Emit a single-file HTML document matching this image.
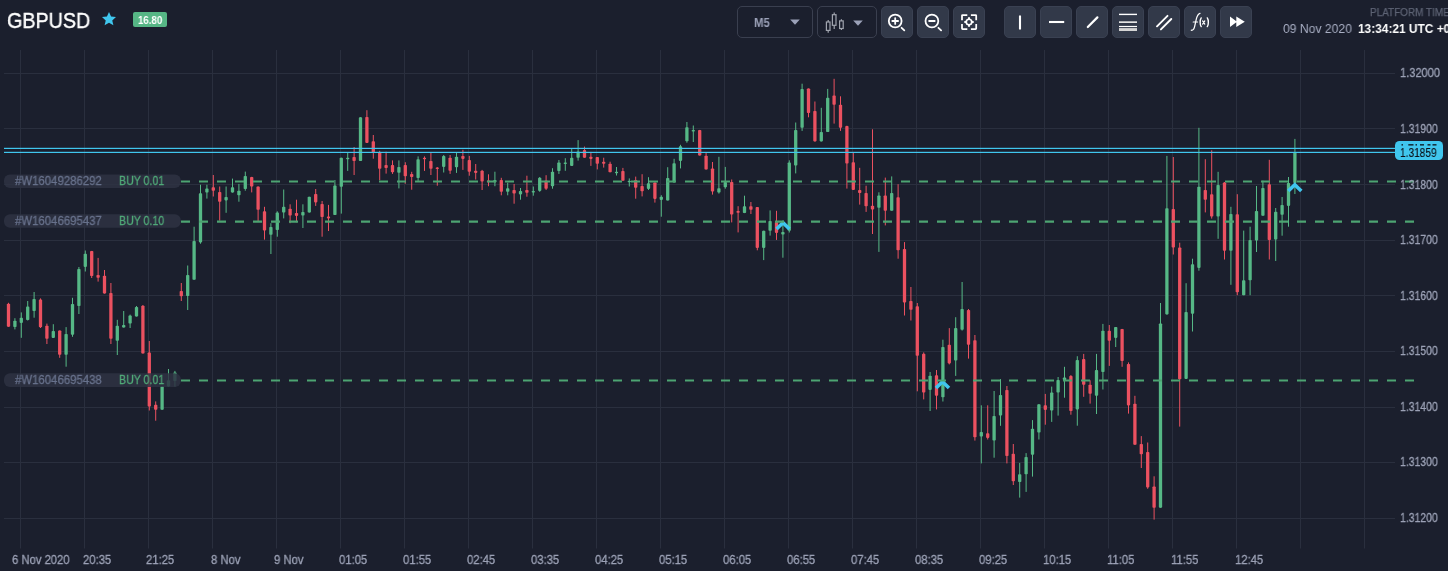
<!DOCTYPE html>
<html><head><meta charset="utf-8">
<style>
html,body{margin:0;padding:0;}
body{width:1448px;height:571px;background:#1b1f2d;position:relative;overflow:hidden;font-family:"Liberation Sans",sans-serif;}
.t{position:absolute;white-space:nowrap;line-height:1;will-change:transform;}
svg{position:absolute;left:0;top:0;}
.btn{position:absolute;top:6px;width:32px;height:32px;border-radius:5px;background:#323949;border:1px solid #3a4152;box-sizing:border-box;}
.sel{position:absolute;top:6px;height:31.5px;border-radius:5px;border:1px solid #3a3f4f;box-sizing:border-box;}
</style></head><body>
<svg width="1448" height="571" viewBox="0 0 1448 571">
<rect x="20.0" y="50" width="1" height="498.5" fill="#2a2f3e"/>
<rect x="84.0" y="50" width="1" height="498.5" fill="#2a2f3e"/>
<rect x="148.0" y="50" width="1" height="498.5" fill="#2a2f3e"/>
<rect x="212.0" y="50" width="1" height="498.5" fill="#2a2f3e"/>
<rect x="276.0" y="50" width="1" height="498.5" fill="#2a2f3e"/>
<rect x="340.0" y="50" width="1" height="498.5" fill="#2a2f3e"/>
<rect x="404.0" y="50" width="1" height="498.5" fill="#2a2f3e"/>
<rect x="468.0" y="50" width="1" height="498.5" fill="#2a2f3e"/>
<rect x="532.0" y="50" width="1" height="498.5" fill="#2a2f3e"/>
<rect x="596.0" y="50" width="1" height="498.5" fill="#2a2f3e"/>
<rect x="660.0" y="50" width="1" height="498.5" fill="#2a2f3e"/>
<rect x="724.0" y="50" width="1" height="498.5" fill="#2a2f3e"/>
<rect x="788.0" y="50" width="1" height="498.5" fill="#2a2f3e"/>
<rect x="852.0" y="50" width="1" height="498.5" fill="#2a2f3e"/>
<rect x="916.0" y="50" width="1" height="498.5" fill="#2a2f3e"/>
<rect x="980.0" y="50" width="1" height="498.5" fill="#2a2f3e"/>
<rect x="1044.0" y="50" width="1" height="498.5" fill="#2a2f3e"/>
<rect x="1108.0" y="50" width="1" height="498.5" fill="#2a2f3e"/>
<rect x="1172.0" y="50" width="1" height="498.5" fill="#2a2f3e"/>
<rect x="1236.0" y="50" width="1" height="498.5" fill="#2a2f3e"/>
<rect x="1300.0" y="50" width="1" height="498.5" fill="#2a2f3e"/>
<rect x="1364.0" y="50" width="1" height="498.5" fill="#2a2f3e"/>
<rect x="4" y="73" width="1391" height="1" fill="#2a2f3e"/>
<rect x="4" y="128" width="1391" height="1" fill="#2a2f3e"/>
<rect x="4" y="184" width="1391" height="1" fill="#2a2f3e"/>
<rect x="4" y="240" width="1391" height="1" fill="#2a2f3e"/>
<rect x="4" y="295" width="1391" height="1" fill="#2a2f3e"/>
<rect x="4" y="351" width="1391" height="1" fill="#2a2f3e"/>
<rect x="4" y="407" width="1391" height="1" fill="#2a2f3e"/>
<rect x="4" y="462" width="1391" height="1" fill="#2a2f3e"/>
<rect x="4" y="518" width="1391" height="1" fill="#2a2f3e"/>
<rect x="8.00" y="302.8" width="1" height="24.0" fill="#eb5160"/>
<rect x="6.85" y="303.7" width="3.3" height="23.1" rx="0.8" fill="#eb5160"/>
<rect x="14.40" y="318.2" width="1" height="11.2" fill="#56b886"/>
<rect x="13.25" y="320.7" width="3.3" height="6.3" rx="0.8" fill="#56b886"/>
<rect x="20.80" y="312.4" width="1" height="25.4" fill="#56b886"/>
<rect x="19.65" y="317.7" width="3.3" height="5.2" rx="0.8" fill="#56b886"/>
<rect x="27.20" y="301.0" width="1" height="19.5" fill="#56b886"/>
<rect x="26.05" y="306.6" width="3.3" height="13.4" rx="0.8" fill="#56b886"/>
<rect x="33.60" y="292.0" width="1" height="25.7" fill="#56b886"/>
<rect x="32.45" y="299.0" width="3.3" height="12.0" rx="0.8" fill="#56b886"/>
<rect x="40.00" y="298.4" width="1" height="29.6" fill="#eb5160"/>
<rect x="38.85" y="299.6" width="3.3" height="27.7" rx="0.8" fill="#eb5160"/>
<rect x="46.40" y="323.6" width="1" height="20.4" fill="#eb5160"/>
<rect x="45.25" y="325.7" width="3.3" height="13.0" rx="0.8" fill="#eb5160"/>
<rect x="52.80" y="324.2" width="1" height="13.7" fill="#56b886"/>
<rect x="51.65" y="331.0" width="3.3" height="6.9" rx="0.8" fill="#56b886"/>
<rect x="59.20" y="330.5" width="1" height="27.3" fill="#eb5160"/>
<rect x="58.05" y="330.5" width="3.3" height="24.2" rx="0.8" fill="#eb5160"/>
<rect x="65.60" y="327.1" width="1" height="39.6" fill="#56b886"/>
<rect x="64.45" y="333.9" width="3.3" height="20.8" rx="0.8" fill="#56b886"/>
<rect x="72.00" y="297.8" width="1" height="39.0" fill="#56b886"/>
<rect x="70.85" y="304.0" width="3.3" height="30.7" rx="0.8" fill="#56b886"/>
<rect x="78.40" y="267.0" width="1" height="47.0" fill="#56b886"/>
<rect x="77.25" y="269.0" width="3.3" height="37.0" rx="0.8" fill="#56b886"/>
<rect x="84.80" y="250.5" width="1" height="21.0" fill="#56b886"/>
<rect x="83.65" y="253.7" width="3.3" height="13.2" rx="0.8" fill="#56b886"/>
<rect x="91.20" y="250.9" width="1" height="27.1" fill="#eb5160"/>
<rect x="90.05" y="250.9" width="3.3" height="25.1" rx="0.8" fill="#eb5160"/>
<rect x="97.60" y="257.9" width="1" height="23.7" fill="#eb5160"/>
<rect x="96.45" y="275.0" width="3.3" height="2.8" rx="0.8" fill="#eb5160"/>
<rect x="104.00" y="270.0" width="1" height="23.6" fill="#eb5160"/>
<rect x="102.85" y="275.7" width="3.3" height="17.9" rx="0.8" fill="#eb5160"/>
<rect x="110.40" y="283.0" width="1" height="61.0" fill="#eb5160"/>
<rect x="109.25" y="293.0" width="3.3" height="45.7" rx="0.8" fill="#eb5160"/>
<rect x="116.80" y="319.8" width="1" height="35.2" fill="#56b886"/>
<rect x="115.65" y="325.7" width="3.3" height="15.1" rx="0.8" fill="#56b886"/>
<rect x="123.20" y="311.0" width="1" height="16.6" fill="#56b886"/>
<rect x="122.05" y="325.0" width="3.3" height="2.6" rx="0.8" fill="#56b886"/>
<rect x="129.60" y="314.6" width="1" height="13.4" fill="#56b886"/>
<rect x="128.45" y="315.6" width="3.3" height="8.0" rx="0.8" fill="#56b886"/>
<rect x="136.00" y="306.0" width="1" height="10.5" fill="#56b886"/>
<rect x="134.85" y="307.0" width="3.3" height="9.5" rx="0.8" fill="#56b886"/>
<rect x="142.40" y="305.0" width="1" height="48.5" fill="#eb5160"/>
<rect x="141.25" y="305.7" width="3.3" height="47.8" rx="0.8" fill="#eb5160"/>
<rect x="148.80" y="341.0" width="1" height="69.5" fill="#eb5160"/>
<rect x="147.65" y="352.4" width="3.3" height="54.2" rx="0.8" fill="#eb5160"/>
<rect x="155.20" y="401.4" width="1" height="19.3" fill="#eb5160"/>
<rect x="154.05" y="404.8" width="3.3" height="5.0" rx="0.8" fill="#eb5160"/>
<rect x="161.60" y="386.0" width="1" height="23.8" fill="#56b886"/>
<rect x="160.45" y="386.0" width="3.3" height="23.8" rx="0.8" fill="#56b886"/>
<rect x="168.00" y="369.0" width="1" height="17.6" fill="#56b886"/>
<rect x="166.85" y="380.3" width="3.3" height="6.3" rx="0.8" fill="#56b886"/>
<rect x="174.40" y="370.9" width="1" height="15.7" fill="#56b886"/>
<rect x="173.25" y="372.6" width="3.3" height="8.4" rx="0.8" fill="#56b886"/>
<rect x="180.80" y="283.0" width="1" height="18.0" fill="#eb5160"/>
<rect x="179.65" y="291.0" width="3.3" height="5.2" rx="0.8" fill="#eb5160"/>
<rect x="187.20" y="265.5" width="1" height="44.5" fill="#56b886"/>
<rect x="186.05" y="275.0" width="3.3" height="21.0" rx="0.8" fill="#56b886"/>
<rect x="193.60" y="226.7" width="1" height="53.0" fill="#56b886"/>
<rect x="192.45" y="241.0" width="3.3" height="38.7" rx="0.8" fill="#56b886"/>
<rect x="200.00" y="184.7" width="1" height="59.0" fill="#56b886"/>
<rect x="198.85" y="193.3" width="3.3" height="49.1" rx="0.8" fill="#56b886"/>
<rect x="206.40" y="184.7" width="1" height="13.9" fill="#56b886"/>
<rect x="205.25" y="188.6" width="3.3" height="4.0" rx="0.8" fill="#56b886"/>
<rect x="212.80" y="175.0" width="1" height="21.5" fill="#eb5160"/>
<rect x="211.65" y="187.3" width="3.3" height="3.4" rx="0.8" fill="#eb5160"/>
<rect x="219.20" y="186.5" width="1" height="34.1" fill="#eb5160"/>
<rect x="218.05" y="192.0" width="3.3" height="9.7" rx="0.8" fill="#eb5160"/>
<rect x="225.60" y="186.5" width="1" height="26.3" fill="#56b886"/>
<rect x="224.45" y="197.0" width="3.3" height="3.4" rx="0.8" fill="#56b886"/>
<rect x="232.00" y="178.6" width="1" height="14.0" fill="#56b886"/>
<rect x="230.85" y="187.3" width="3.3" height="5.3" rx="0.8" fill="#56b886"/>
<rect x="238.40" y="183.9" width="1" height="17.8" fill="#56b886"/>
<rect x="237.25" y="190.7" width="3.3" height="4.5" rx="0.8" fill="#56b886"/>
<rect x="244.80" y="171.6" width="1" height="19.1" fill="#56b886"/>
<rect x="243.65" y="176.0" width="3.3" height="13.0" rx="0.8" fill="#56b886"/>
<rect x="251.20" y="176.8" width="1" height="15.6" fill="#eb5160"/>
<rect x="250.05" y="177.0" width="3.3" height="9.6" rx="0.8" fill="#eb5160"/>
<rect x="257.60" y="186.5" width="1" height="35.5" fill="#eb5160"/>
<rect x="256.45" y="186.6" width="3.3" height="23.1" rx="0.8" fill="#eb5160"/>
<rect x="264.00" y="206.8" width="1" height="32.8" fill="#eb5160"/>
<rect x="262.85" y="211.3" width="3.3" height="19.2" rx="0.8" fill="#eb5160"/>
<rect x="270.40" y="223.2" width="1" height="30.8" fill="#56b886"/>
<rect x="269.25" y="227.0" width="3.3" height="7.8" rx="0.8" fill="#56b886"/>
<rect x="276.80" y="211.3" width="1" height="25.4" fill="#56b886"/>
<rect x="275.65" y="212.6" width="3.3" height="17.4" rx="0.8" fill="#56b886"/>
<rect x="283.20" y="189.5" width="1" height="28.9" fill="#56b886"/>
<rect x="282.05" y="206.8" width="3.3" height="5.8" rx="0.8" fill="#56b886"/>
<rect x="289.60" y="204.3" width="1" height="18.9" fill="#eb5160"/>
<rect x="288.45" y="208.8" width="3.3" height="6.7" rx="0.8" fill="#eb5160"/>
<rect x="296.00" y="199.7" width="1" height="22.6" fill="#eb5160"/>
<rect x="294.85" y="213.0" width="3.3" height="2.9" rx="0.8" fill="#eb5160"/>
<rect x="302.40" y="204.3" width="1" height="23.7" fill="#56b886"/>
<rect x="301.25" y="212.0" width="3.3" height="3.5" rx="0.8" fill="#56b886"/>
<rect x="308.80" y="196.8" width="1" height="15.8" fill="#56b886"/>
<rect x="307.65" y="196.8" width="3.3" height="15.8" rx="0.8" fill="#56b886"/>
<rect x="315.20" y="189.0" width="1" height="16.9" fill="#eb5160"/>
<rect x="314.05" y="194.0" width="3.3" height="8.4" rx="0.8" fill="#eb5160"/>
<rect x="321.60" y="201.0" width="1" height="35.7" fill="#eb5160"/>
<rect x="320.45" y="204.0" width="3.3" height="13.0" rx="0.8" fill="#eb5160"/>
<rect x="328.00" y="204.9" width="1" height="26.1" fill="#eb5160"/>
<rect x="326.85" y="216.5" width="3.3" height="1.9" rx="0.8" fill="#eb5160"/>
<rect x="334.40" y="180.0" width="1" height="35.0" fill="#56b886"/>
<rect x="333.25" y="185.6" width="3.3" height="29.4" rx="0.8" fill="#56b886"/>
<rect x="340.80" y="157.7" width="1" height="55.9" fill="#56b886"/>
<rect x="339.65" y="157.7" width="3.3" height="29.0" rx="0.8" fill="#56b886"/>
<rect x="347.20" y="152.5" width="1" height="18.4" fill="#56b886"/>
<rect x="346.05" y="157.8" width="3.3" height="1.5" rx="0.8" fill="#56b886"/>
<rect x="353.60" y="147.0" width="1" height="28.0" fill="#eb5160"/>
<rect x="352.45" y="157.0" width="3.3" height="4.0" rx="0.8" fill="#eb5160"/>
<rect x="360.00" y="117.2" width="1" height="43.8" fill="#56b886"/>
<rect x="358.85" y="117.2" width="3.3" height="43.8" rx="0.8" fill="#56b886"/>
<rect x="366.40" y="110.2" width="1" height="32.7" fill="#eb5160"/>
<rect x="365.25" y="117.0" width="3.3" height="25.9" rx="0.8" fill="#eb5160"/>
<rect x="372.80" y="135.0" width="1" height="23.7" fill="#eb5160"/>
<rect x="371.65" y="141.2" width="3.3" height="11.0" rx="0.8" fill="#eb5160"/>
<rect x="379.20" y="150.8" width="1" height="29.4" fill="#eb5160"/>
<rect x="378.05" y="152.2" width="3.3" height="16.5" rx="0.8" fill="#eb5160"/>
<rect x="385.60" y="151.7" width="1" height="21.9" fill="#eb5160"/>
<rect x="384.45" y="165.1" width="3.3" height="2.9" rx="0.8" fill="#eb5160"/>
<rect x="392.00" y="160.4" width="1" height="13.5" fill="#eb5160"/>
<rect x="390.85" y="165.1" width="3.3" height="7.1" rx="0.8" fill="#eb5160"/>
<rect x="398.40" y="160.4" width="1" height="28.0" fill="#56b886"/>
<rect x="397.25" y="166.9" width="3.3" height="5.8" rx="0.8" fill="#56b886"/>
<rect x="404.80" y="162.2" width="1" height="21.5" fill="#eb5160"/>
<rect x="403.65" y="165.0" width="3.3" height="11.2" rx="0.8" fill="#eb5160"/>
<rect x="411.20" y="171.8" width="1" height="17.9" fill="#eb5160"/>
<rect x="410.05" y="173.9" width="3.3" height="3.1" rx="0.8" fill="#eb5160"/>
<rect x="417.60" y="156.4" width="1" height="24.5" fill="#56b886"/>
<rect x="416.45" y="159.2" width="3.3" height="18.8" rx="0.8" fill="#56b886"/>
<rect x="424.00" y="156.4" width="1" height="14.5" fill="#eb5160"/>
<rect x="422.85" y="157.8" width="3.3" height="1.5" rx="0.8" fill="#eb5160"/>
<rect x="430.40" y="152.9" width="1" height="22.1" fill="#eb5160"/>
<rect x="429.25" y="161.0" width="3.3" height="7.7" rx="0.8" fill="#eb5160"/>
<rect x="436.80" y="167.0" width="1" height="18.7" fill="#eb5160"/>
<rect x="435.65" y="167.6" width="3.3" height="1.5" rx="0.8" fill="#eb5160"/>
<rect x="443.20" y="155.0" width="1" height="17.5" fill="#56b886"/>
<rect x="442.05" y="155.9" width="3.3" height="11.0" rx="0.8" fill="#56b886"/>
<rect x="449.60" y="155.0" width="1" height="18.9" fill="#eb5160"/>
<rect x="448.45" y="157.7" width="3.3" height="13.1" rx="0.8" fill="#eb5160"/>
<rect x="456.00" y="152.4" width="1" height="20.5" fill="#56b886"/>
<rect x="454.85" y="156.8" width="3.3" height="10.5" rx="0.8" fill="#56b886"/>
<rect x="462.40" y="149.8" width="1" height="20.1" fill="#eb5160"/>
<rect x="461.25" y="155.9" width="3.3" height="3.0" rx="0.8" fill="#eb5160"/>
<rect x="468.80" y="155.9" width="1" height="19.8" fill="#eb5160"/>
<rect x="467.65" y="160.0" width="3.3" height="11.7" rx="0.8" fill="#eb5160"/>
<rect x="475.20" y="164.0" width="1" height="15.5" fill="#eb5160"/>
<rect x="474.05" y="170.8" width="3.3" height="2.1" rx="0.8" fill="#eb5160"/>
<rect x="481.60" y="169.9" width="1" height="20.1" fill="#eb5160"/>
<rect x="480.45" y="170.8" width="3.3" height="10.8" rx="0.8" fill="#eb5160"/>
<rect x="488.00" y="174.3" width="1" height="11.9" fill="#eb5160"/>
<rect x="486.85" y="180.4" width="3.3" height="1.8" rx="0.8" fill="#eb5160"/>
<rect x="494.40" y="171.7" width="1" height="14.5" fill="#56b886"/>
<rect x="493.25" y="179.9" width="3.3" height="2.4" rx="0.8" fill="#56b886"/>
<rect x="500.80" y="177.8" width="1" height="17.5" fill="#eb5160"/>
<rect x="499.65" y="179.9" width="3.3" height="11.9" rx="0.8" fill="#eb5160"/>
<rect x="507.20" y="182.7" width="1" height="12.6" fill="#56b886"/>
<rect x="506.05" y="188.3" width="3.3" height="3.5" rx="0.8" fill="#56b886"/>
<rect x="513.60" y="184.0" width="1" height="19.7" fill="#eb5160"/>
<rect x="512.45" y="190.0" width="3.3" height="3.6" rx="0.8" fill="#eb5160"/>
<rect x="520.00" y="188.0" width="1" height="11.7" fill="#56b886"/>
<rect x="518.85" y="190.9" width="3.3" height="3.5" rx="0.8" fill="#56b886"/>
<rect x="526.40" y="175.7" width="1" height="21.0" fill="#eb5160"/>
<rect x="525.25" y="190.0" width="3.3" height="2.7" rx="0.8" fill="#eb5160"/>
<rect x="532.80" y="186.5" width="1" height="9.2" fill="#56b886"/>
<rect x="531.65" y="190.9" width="3.3" height="1.5" rx="0.8" fill="#56b886"/>
<rect x="539.20" y="177.0" width="1" height="14.8" fill="#56b886"/>
<rect x="538.05" y="177.8" width="3.3" height="13.1" rx="0.8" fill="#56b886"/>
<rect x="545.60" y="175.2" width="1" height="14.8" fill="#eb5160"/>
<rect x="544.45" y="180.4" width="3.3" height="8.3" rx="0.8" fill="#eb5160"/>
<rect x="552.00" y="168.2" width="1" height="20.5" fill="#56b886"/>
<rect x="550.85" y="171.7" width="3.3" height="14.5" rx="0.8" fill="#56b886"/>
<rect x="558.40" y="160.0" width="1" height="13.9" fill="#56b886"/>
<rect x="557.25" y="162.4" width="3.3" height="8.7" rx="0.8" fill="#56b886"/>
<rect x="564.80" y="158.2" width="1" height="12.6" fill="#56b886"/>
<rect x="563.65" y="162.4" width="3.3" height="1.7" rx="0.8" fill="#56b886"/>
<rect x="571.20" y="148.0" width="1" height="17.9" fill="#56b886"/>
<rect x="570.05" y="157.7" width="3.3" height="8.2" rx="0.8" fill="#56b886"/>
<rect x="577.60" y="140.1" width="1" height="20.5" fill="#56b886"/>
<rect x="576.45" y="151.5" width="3.3" height="6.2" rx="0.8" fill="#56b886"/>
<rect x="584.00" y="146.6" width="1" height="11.1" fill="#eb5160"/>
<rect x="582.85" y="150.1" width="3.3" height="7.6" rx="0.8" fill="#eb5160"/>
<rect x="590.40" y="151.9" width="1" height="14.0" fill="#eb5160"/>
<rect x="589.25" y="156.8" width="3.3" height="2.1" rx="0.8" fill="#eb5160"/>
<rect x="596.80" y="157.1" width="1" height="12.3" fill="#eb5160"/>
<rect x="595.65" y="157.1" width="3.3" height="6.7" rx="0.8" fill="#eb5160"/>
<rect x="603.20" y="157.7" width="1" height="9.9" fill="#eb5160"/>
<rect x="602.05" y="161.7" width="3.3" height="2.1" rx="0.8" fill="#eb5160"/>
<rect x="609.60" y="161.7" width="1" height="10.5" fill="#eb5160"/>
<rect x="608.45" y="163.8" width="3.3" height="8.4" rx="0.8" fill="#eb5160"/>
<rect x="616.00" y="167.0" width="1" height="8.5" fill="#56b886"/>
<rect x="614.85" y="171.8" width="3.3" height="1.5" rx="0.8" fill="#56b886"/>
<rect x="622.40" y="167.9" width="1" height="12.8" fill="#eb5160"/>
<rect x="621.25" y="171.0" width="3.3" height="9.7" rx="0.8" fill="#eb5160"/>
<rect x="628.80" y="178.4" width="1" height="8.1" fill="#56b886"/>
<rect x="627.65" y="180.7" width="3.3" height="1.5" rx="0.8" fill="#56b886"/>
<rect x="635.20" y="176.6" width="1" height="22.1" fill="#eb5160"/>
<rect x="634.05" y="180.1" width="3.3" height="7.6" rx="0.8" fill="#eb5160"/>
<rect x="641.60" y="174.2" width="1" height="22.2" fill="#eb5160"/>
<rect x="640.45" y="185.9" width="3.3" height="5.3" rx="0.8" fill="#eb5160"/>
<rect x="648.00" y="177.2" width="1" height="12.8" fill="#56b886"/>
<rect x="646.85" y="183.3" width="3.3" height="5.6" rx="0.8" fill="#56b886"/>
<rect x="654.40" y="182.4" width="1" height="20.2" fill="#eb5160"/>
<rect x="653.25" y="182.4" width="3.3" height="16.5" rx="0.8" fill="#eb5160"/>
<rect x="660.80" y="195.2" width="1" height="21.5" fill="#56b886"/>
<rect x="659.65" y="196.8" width="3.3" height="3.1" rx="0.8" fill="#56b886"/>
<rect x="667.20" y="167.2" width="1" height="33.3" fill="#56b886"/>
<rect x="666.05" y="177.9" width="3.3" height="22.6" rx="0.8" fill="#56b886"/>
<rect x="673.60" y="158.8" width="1" height="23.6" fill="#56b886"/>
<rect x="672.45" y="163.2" width="3.3" height="19.2" rx="0.8" fill="#56b886"/>
<rect x="680.00" y="144.8" width="1" height="23.6" fill="#56b886"/>
<rect x="678.85" y="146.2" width="3.3" height="14.7" rx="0.8" fill="#56b886"/>
<rect x="686.40" y="122.0" width="1" height="20.7" fill="#56b886"/>
<rect x="685.25" y="127.3" width="3.3" height="14.0" rx="0.8" fill="#56b886"/>
<rect x="692.80" y="125.5" width="1" height="16.5" fill="#56b886"/>
<rect x="691.65" y="129.9" width="3.3" height="1.5" rx="0.8" fill="#56b886"/>
<rect x="699.20" y="129.9" width="1" height="25.7" fill="#eb5160"/>
<rect x="698.05" y="129.9" width="3.3" height="25.7" rx="0.8" fill="#eb5160"/>
<rect x="705.60" y="152.7" width="1" height="16.8" fill="#eb5160"/>
<rect x="704.45" y="155.7" width="3.3" height="13.8" rx="0.8" fill="#eb5160"/>
<rect x="712.00" y="162.0" width="1" height="32.6" fill="#eb5160"/>
<rect x="710.85" y="168.4" width="3.3" height="23.1" rx="0.8" fill="#eb5160"/>
<rect x="718.40" y="156.8" width="1" height="36.8" fill="#56b886"/>
<rect x="717.25" y="188.3" width="3.3" height="4.2" rx="0.8" fill="#56b886"/>
<rect x="724.80" y="166.9" width="1" height="21.8" fill="#56b886"/>
<rect x="723.65" y="182.0" width="3.3" height="5.3" rx="0.8" fill="#56b886"/>
<rect x="731.20" y="179.5" width="1" height="42.9" fill="#eb5160"/>
<rect x="730.05" y="182.0" width="3.3" height="32.6" rx="0.8" fill="#eb5160"/>
<rect x="737.60" y="206.2" width="1" height="26.2" fill="#eb5160"/>
<rect x="736.45" y="211.0" width="3.3" height="1.7" rx="0.8" fill="#eb5160"/>
<rect x="744.00" y="195.7" width="1" height="17.4" fill="#56b886"/>
<rect x="742.85" y="206.2" width="3.3" height="6.9" rx="0.8" fill="#56b886"/>
<rect x="750.40" y="202.0" width="1" height="12.0" fill="#eb5160"/>
<rect x="749.25" y="206.2" width="3.3" height="3.5" rx="0.8" fill="#eb5160"/>
<rect x="756.80" y="207.1" width="1" height="43.2" fill="#eb5160"/>
<rect x="755.65" y="207.1" width="3.3" height="40.8" rx="0.8" fill="#eb5160"/>
<rect x="763.20" y="230.7" width="1" height="29.4" fill="#56b886"/>
<rect x="762.05" y="230.7" width="3.3" height="17.2" rx="0.8" fill="#56b886"/>
<rect x="769.60" y="210.4" width="1" height="25.2" fill="#56b886"/>
<rect x="768.45" y="220.9" width="3.3" height="9.8" rx="0.8" fill="#56b886"/>
<rect x="776.00" y="210.8" width="1" height="29.1" fill="#eb5160"/>
<rect x="774.85" y="222.0" width="3.3" height="10.9" rx="0.8" fill="#eb5160"/>
<rect x="782.40" y="222.0" width="1" height="35.7" fill="#56b886"/>
<rect x="781.25" y="232.0" width="3.3" height="2.6" rx="0.8" fill="#56b886"/>
<rect x="788.80" y="160.3" width="1" height="72.2" fill="#56b886"/>
<rect x="787.65" y="162.4" width="3.3" height="68.3" rx="0.8" fill="#56b886"/>
<rect x="795.20" y="122.5" width="1" height="50.9" fill="#56b886"/>
<rect x="794.05" y="129.9" width="3.3" height="35.7" rx="0.8" fill="#56b886"/>
<rect x="801.60" y="83.7" width="1" height="47.2" fill="#56b886"/>
<rect x="800.45" y="88.9" width="3.3" height="38.9" rx="0.8" fill="#56b886"/>
<rect x="808.00" y="88.5" width="1" height="28.8" fill="#eb5160"/>
<rect x="806.85" y="88.5" width="3.3" height="24.5" rx="0.8" fill="#eb5160"/>
<rect x="814.40" y="101.5" width="1" height="39.9" fill="#eb5160"/>
<rect x="813.25" y="111.0" width="3.3" height="30.4" rx="0.8" fill="#eb5160"/>
<rect x="820.80" y="107.8" width="1" height="33.6" fill="#56b886"/>
<rect x="819.65" y="132.0" width="3.3" height="9.4" rx="0.8" fill="#56b886"/>
<rect x="827.20" y="88.9" width="1" height="43.1" fill="#56b886"/>
<rect x="826.05" y="97.7" width="3.3" height="34.3" rx="0.8" fill="#56b886"/>
<rect x="833.60" y="78.8" width="1" height="44.8" fill="#eb5160"/>
<rect x="832.45" y="95.6" width="3.3" height="9.1" rx="0.8" fill="#eb5160"/>
<rect x="840.00" y="96.3" width="1" height="34.6" fill="#eb5160"/>
<rect x="838.85" y="104.7" width="3.3" height="23.1" rx="0.8" fill="#eb5160"/>
<rect x="846.40" y="125.7" width="1" height="62.9" fill="#eb5160"/>
<rect x="845.25" y="126.1" width="3.3" height="37.5" rx="0.8" fill="#eb5160"/>
<rect x="852.80" y="153.0" width="1" height="36.9" fill="#eb5160"/>
<rect x="851.65" y="162.2" width="3.3" height="27.7" rx="0.8" fill="#eb5160"/>
<rect x="859.20" y="167.8" width="1" height="36.8" fill="#eb5160"/>
<rect x="858.05" y="189.9" width="3.3" height="3.1" rx="0.8" fill="#eb5160"/>
<rect x="865.60" y="185.7" width="1" height="26.2" fill="#eb5160"/>
<rect x="864.45" y="193.0" width="3.3" height="13.3" rx="0.8" fill="#eb5160"/>
<rect x="872.00" y="129.3" width="1" height="104.7" fill="#eb5160"/>
<rect x="870.85" y="205.8" width="3.3" height="3.7" rx="0.8" fill="#eb5160"/>
<rect x="878.40" y="192.3" width="1" height="59.6" fill="#56b886"/>
<rect x="877.25" y="195.5" width="3.3" height="12.2" rx="0.8" fill="#56b886"/>
<rect x="884.80" y="177.6" width="1" height="47.8" fill="#eb5160"/>
<rect x="883.65" y="195.5" width="3.3" height="15.2" rx="0.8" fill="#eb5160"/>
<rect x="891.20" y="176.4" width="1" height="34.3" fill="#56b886"/>
<rect x="890.05" y="193.0" width="3.3" height="17.7" rx="0.8" fill="#56b886"/>
<rect x="897.60" y="184.2" width="1" height="74.5" fill="#eb5160"/>
<rect x="896.45" y="197.2" width="3.3" height="53.0" rx="0.8" fill="#eb5160"/>
<rect x="904.00" y="242.1" width="1" height="73.4" fill="#eb5160"/>
<rect x="902.85" y="248.9" width="3.3" height="53.6" rx="0.8" fill="#eb5160"/>
<rect x="910.40" y="287.0" width="1" height="33.5" fill="#eb5160"/>
<rect x="909.25" y="301.0" width="3.3" height="8.7" rx="0.8" fill="#eb5160"/>
<rect x="916.80" y="303.0" width="1" height="88.3" fill="#eb5160"/>
<rect x="915.65" y="306.2" width="3.3" height="49.5" rx="0.8" fill="#eb5160"/>
<rect x="923.20" y="352.4" width="1" height="47.0" fill="#eb5160"/>
<rect x="922.05" y="353.8" width="3.3" height="38.8" rx="0.8" fill="#eb5160"/>
<rect x="929.60" y="372.0" width="1" height="39.0" fill="#56b886"/>
<rect x="928.45" y="375.8" width="3.3" height="14.1" rx="0.8" fill="#56b886"/>
<rect x="936.00" y="370.0" width="1" height="39.4" fill="#eb5160"/>
<rect x="934.85" y="375.2" width="3.3" height="20.5" rx="0.8" fill="#eb5160"/>
<rect x="942.40" y="339.7" width="1" height="61.8" fill="#56b886"/>
<rect x="941.25" y="347.0" width="3.3" height="50.3" rx="0.8" fill="#56b886"/>
<rect x="948.80" y="328.1" width="1" height="36.3" fill="#eb5160"/>
<rect x="947.65" y="344.7" width="3.3" height="18.7" rx="0.8" fill="#eb5160"/>
<rect x="955.20" y="317.2" width="1" height="58.7" fill="#56b886"/>
<rect x="954.05" y="328.1" width="3.3" height="32.4" rx="0.8" fill="#56b886"/>
<rect x="961.60" y="282.0" width="1" height="48.6" fill="#56b886"/>
<rect x="960.45" y="308.9" width="3.3" height="20.8" rx="0.8" fill="#56b886"/>
<rect x="968.00" y="309.0" width="1" height="49.6" fill="#eb5160"/>
<rect x="966.85" y="310.0" width="3.3" height="34.7" rx="0.8" fill="#eb5160"/>
<rect x="974.40" y="335.0" width="1" height="105.6" fill="#eb5160"/>
<rect x="973.25" y="340.3" width="3.3" height="96.9" rx="0.8" fill="#eb5160"/>
<rect x="980.80" y="405.3" width="1" height="58.1" fill="#56b886"/>
<rect x="979.65" y="432.0" width="3.3" height="4.5" rx="0.8" fill="#56b886"/>
<rect x="987.20" y="405.3" width="1" height="34.2" fill="#eb5160"/>
<rect x="986.05" y="433.3" width="3.3" height="4.6" rx="0.8" fill="#eb5160"/>
<rect x="993.60" y="391.0" width="1" height="66.7" fill="#56b886"/>
<rect x="992.45" y="416.0" width="3.3" height="24.6" rx="0.8" fill="#56b886"/>
<rect x="1000.00" y="379.1" width="1" height="46.7" fill="#56b886"/>
<rect x="998.85" y="395.0" width="3.3" height="20.6" rx="0.8" fill="#56b886"/>
<rect x="1006.40" y="386.0" width="1" height="77.4" fill="#eb5160"/>
<rect x="1005.25" y="390.0" width="3.3" height="66.1" rx="0.8" fill="#eb5160"/>
<rect x="1012.80" y="444.0" width="1" height="41.0" fill="#eb5160"/>
<rect x="1011.65" y="453.8" width="3.3" height="27.4" rx="0.8" fill="#eb5160"/>
<rect x="1019.20" y="462.9" width="1" height="34.7" fill="#56b886"/>
<rect x="1018.05" y="474.3" width="3.3" height="7.7" rx="0.8" fill="#56b886"/>
<rect x="1025.60" y="453.1" width="1" height="38.8" fill="#56b886"/>
<rect x="1024.45" y="457.0" width="3.3" height="17.3" rx="0.8" fill="#56b886"/>
<rect x="1032.00" y="420.1" width="1" height="56.5" fill="#56b886"/>
<rect x="1030.85" y="428.8" width="3.3" height="25.9" rx="0.8" fill="#56b886"/>
<rect x="1038.40" y="404.2" width="1" height="35.3" fill="#56b886"/>
<rect x="1037.25" y="404.2" width="3.3" height="28.4" rx="0.8" fill="#56b886"/>
<rect x="1044.80" y="393.9" width="1" height="30.8" fill="#eb5160"/>
<rect x="1043.65" y="405.3" width="3.3" height="4.6" rx="0.8" fill="#eb5160"/>
<rect x="1051.20" y="386.6" width="1" height="35.3" fill="#56b886"/>
<rect x="1050.05" y="392.4" width="3.3" height="18.2" rx="0.8" fill="#56b886"/>
<rect x="1057.60" y="377.0" width="1" height="38.6" fill="#56b886"/>
<rect x="1056.45" y="380.0" width="3.3" height="12.6" rx="0.8" fill="#56b886"/>
<rect x="1064.00" y="366.8" width="1" height="30.9" fill="#56b886"/>
<rect x="1062.85" y="377.4" width="3.3" height="2.9" rx="0.8" fill="#56b886"/>
<rect x="1070.40" y="375.0" width="1" height="39.7" fill="#eb5160"/>
<rect x="1069.25" y="375.9" width="3.3" height="35.1" rx="0.8" fill="#eb5160"/>
<rect x="1076.80" y="356.2" width="1" height="69.5" fill="#56b886"/>
<rect x="1075.65" y="360.1" width="3.3" height="49.3" rx="0.8" fill="#56b886"/>
<rect x="1083.20" y="353.9" width="1" height="42.9" fill="#eb5160"/>
<rect x="1082.05" y="359.1" width="3.3" height="25.6" rx="0.8" fill="#eb5160"/>
<rect x="1089.60" y="380.3" width="1" height="23.3" fill="#eb5160"/>
<rect x="1088.45" y="384.7" width="3.3" height="9.0" rx="0.8" fill="#eb5160"/>
<rect x="1096.00" y="353.9" width="1" height="60.1" fill="#56b886"/>
<rect x="1094.85" y="370.1" width="3.3" height="25.7" rx="0.8" fill="#56b886"/>
<rect x="1102.40" y="323.9" width="1" height="65.6" fill="#56b886"/>
<rect x="1101.25" y="330.8" width="3.3" height="41.2" rx="0.8" fill="#56b886"/>
<rect x="1108.80" y="325.0" width="1" height="40.9" fill="#eb5160"/>
<rect x="1107.65" y="330.8" width="3.3" height="10.0" rx="0.8" fill="#eb5160"/>
<rect x="1115.20" y="327.0" width="1" height="20.0" fill="#56b886"/>
<rect x="1114.05" y="327.0" width="3.3" height="10.9" rx="0.8" fill="#56b886"/>
<rect x="1121.60" y="328.9" width="1" height="37.9" fill="#eb5160"/>
<rect x="1120.45" y="328.9" width="3.3" height="32.1" rx="0.8" fill="#eb5160"/>
<rect x="1128.00" y="362.4" width="1" height="51.2" fill="#eb5160"/>
<rect x="1126.85" y="364.0" width="3.3" height="41.4" rx="0.8" fill="#eb5160"/>
<rect x="1134.40" y="395.8" width="1" height="49.0" fill="#eb5160"/>
<rect x="1133.25" y="403.7" width="3.3" height="41.1" rx="0.8" fill="#eb5160"/>
<rect x="1140.80" y="436.1" width="1" height="31.9" fill="#eb5160"/>
<rect x="1139.65" y="443.9" width="3.3" height="10.4" rx="0.8" fill="#eb5160"/>
<rect x="1147.20" y="442.5" width="1" height="46.3" fill="#eb5160"/>
<rect x="1146.05" y="452.0" width="3.3" height="35.4" rx="0.8" fill="#eb5160"/>
<rect x="1153.60" y="476.3" width="1" height="43.3" fill="#eb5160"/>
<rect x="1152.45" y="486.5" width="3.3" height="21.2" rx="0.8" fill="#eb5160"/>
<rect x="1160.00" y="303.0" width="1" height="204.7" fill="#56b886"/>
<rect x="1158.85" y="323.5" width="3.3" height="184.2" rx="0.8" fill="#56b886"/>
<rect x="1166.40" y="155.9" width="1" height="158.5" fill="#56b886"/>
<rect x="1165.25" y="208.2" width="3.3" height="106.2" rx="0.8" fill="#56b886"/>
<rect x="1172.80" y="157.0" width="1" height="97.5" fill="#eb5160"/>
<rect x="1171.65" y="209.0" width="3.3" height="38.5" rx="0.8" fill="#eb5160"/>
<rect x="1179.20" y="242.7" width="1" height="183.9" fill="#eb5160"/>
<rect x="1178.05" y="247.5" width="3.3" height="131.8" rx="0.8" fill="#eb5160"/>
<rect x="1185.60" y="283.2" width="1" height="95.7" fill="#56b886"/>
<rect x="1184.45" y="312.1" width="3.3" height="66.8" rx="0.8" fill="#56b886"/>
<rect x="1192.00" y="258.7" width="1" height="72.8" fill="#56b886"/>
<rect x="1190.85" y="264.3" width="3.3" height="49.4" rx="0.8" fill="#56b886"/>
<rect x="1198.40" y="127.8" width="1" height="142.9" fill="#56b886"/>
<rect x="1197.25" y="186.7" width="3.3" height="81.2" rx="0.8" fill="#56b886"/>
<rect x="1204.80" y="159.2" width="1" height="53.2" fill="#eb5160"/>
<rect x="1203.65" y="190.0" width="3.3" height="9.8" rx="0.8" fill="#eb5160"/>
<rect x="1211.20" y="150.3" width="1" height="68.3" fill="#eb5160"/>
<rect x="1210.05" y="194.2" width="3.3" height="22.4" rx="0.8" fill="#eb5160"/>
<rect x="1217.60" y="171.8" width="1" height="67.0" fill="#56b886"/>
<rect x="1216.45" y="185.0" width="3.3" height="31.5" rx="0.8" fill="#56b886"/>
<rect x="1224.00" y="182.0" width="1" height="77.5" fill="#eb5160"/>
<rect x="1222.85" y="182.5" width="3.3" height="68.3" rx="0.8" fill="#eb5160"/>
<rect x="1230.40" y="206.8" width="1" height="78.0" fill="#56b886"/>
<rect x="1229.25" y="214.0" width="3.3" height="36.8" rx="0.8" fill="#56b886"/>
<rect x="1236.80" y="194.2" width="1" height="101.0" fill="#eb5160"/>
<rect x="1235.65" y="214.3" width="3.3" height="77.9" rx="0.8" fill="#eb5160"/>
<rect x="1243.20" y="230.6" width="1" height="64.6" fill="#56b886"/>
<rect x="1242.05" y="280.3" width="3.3" height="14.9" rx="0.8" fill="#56b886"/>
<rect x="1249.60" y="226.7" width="1" height="68.5" fill="#56b886"/>
<rect x="1248.45" y="240.1" width="3.3" height="40.2" rx="0.8" fill="#56b886"/>
<rect x="1256.00" y="186.0" width="1" height="66.0" fill="#56b886"/>
<rect x="1254.85" y="211.0" width="3.3" height="29.5" rx="0.8" fill="#56b886"/>
<rect x="1262.40" y="180.6" width="1" height="35.1" fill="#56b886"/>
<rect x="1261.25" y="188.0" width="3.3" height="27.7" rx="0.8" fill="#56b886"/>
<rect x="1268.80" y="159.8" width="1" height="99.7" fill="#eb5160"/>
<rect x="1267.65" y="184.2" width="3.3" height="55.9" rx="0.8" fill="#eb5160"/>
<rect x="1275.20" y="208.0" width="1" height="53.0" fill="#56b886"/>
<rect x="1274.05" y="211.8" width="3.3" height="27.7" rx="0.8" fill="#56b886"/>
<rect x="1281.60" y="197.0" width="1" height="38.7" fill="#56b886"/>
<rect x="1280.45" y="205.0" width="3.3" height="9.8" rx="0.8" fill="#56b886"/>
<rect x="1288.00" y="177.0" width="1" height="49.7" fill="#56b886"/>
<rect x="1286.85" y="183.0" width="3.3" height="22.9" rx="0.8" fill="#56b886"/>
<rect x="1294.40" y="138.9" width="1" height="55.1" fill="#56b886"/>
<rect x="1293.25" y="152.3" width="3.3" height="30.7" rx="0.8" fill="#56b886"/>
<path d="M776.5,229 L783,222.8 L789.5,229" fill="none" stroke="#40c6ee" stroke-width="3.6" stroke-linejoin="miter"/>
<path d="M936.0,388 L942.5,381.8 L949.0,388" fill="none" stroke="#40c6ee" stroke-width="3.6" stroke-linejoin="miter"/>
<path d="M1288.3,191 L1294.8,184.8 L1301.3,191" fill="none" stroke="#40c6ee" stroke-width="3.6" stroke-linejoin="miter"/>
</svg>
<svg width="1448" height="571" viewBox="0 0 1448 571">
<rect x="4" y="147.8" width="1392" height="1.2" fill="#40c6ee"/>
<rect x="4" y="151.8" width="1392" height="1.2" fill="#40c6ee"/>
<line x1="181" y1="181.5" x2="1414" y2="181.5" stroke="#4da472" stroke-width="2.2" stroke-dasharray="9 9"/>
<line x1="181" y1="221.6" x2="1414" y2="221.6" stroke="#4da472" stroke-width="2.2" stroke-dasharray="9 9"/>
<line x1="181" y1="380.5" x2="1414" y2="380.5" stroke="#4da472" stroke-width="2.2" stroke-dasharray="9 9"/>
<rect x="4" y="174.4" width="176.8" height="13.6" rx="6" fill="#2e3343" fill-opacity="0.85"/>
<rect x="4" y="214.2" width="176.8" height="13.6" rx="6" fill="#2e3343" fill-opacity="0.85"/>
<rect x="4" y="373.3" width="176.8" height="13.6" rx="6" fill="#2e3343" fill-opacity="0.85"/>
<rect x="1395" y="141" width="48" height="19" rx="4.5" fill="#40c6ee"/>
<rect x="1401.5" y="144.2" width="1.5" height="1.3" fill="#0c1017"/>
<rect x="1408.3" y="144.2" width="5.2000000000000455" height="1.3" fill="#0c1017"/>
<rect x="1415.5" y="144.2" width="1.5" height="1.3" fill="#0c1017"/>
<rect x="1420" y="144.2" width="4" height="1.3" fill="#0c1017"/>
<rect x="1427.5" y="144.2" width="3.0" height="1.3" fill="#0c1017"/>
<rect x="1432.5" y="144.2" width="4.0" height="1.3" fill="#0c1017"/>
</svg>
<div class="t" style="left:1400.2px;top:67.4px;font-size:12.5px;color:#9ca2b6;font-weight:normal;transform:scaleX(0.885);transform-origin:0 0;-webkit-text-stroke:0.3px #9ca2b6;">1.32000</div><div class="t" style="left:1400.2px;top:122.96px;font-size:12.5px;color:#9ca2b6;font-weight:normal;transform:scaleX(0.835);transform-origin:0 0;-webkit-text-stroke:0.3px #9ca2b6;">1.31900</div><div class="t" style="left:1400.2px;top:178.51999999999998px;font-size:12.5px;color:#9ca2b6;font-weight:normal;transform:scaleX(0.835);transform-origin:0 0;-webkit-text-stroke:0.3px #9ca2b6;">1.31800</div><div class="t" style="left:1400.2px;top:234.07999999999998px;font-size:12.5px;color:#9ca2b6;font-weight:normal;transform:scaleX(0.835);transform-origin:0 0;-webkit-text-stroke:0.3px #9ca2b6;">1.31700</div><div class="t" style="left:1400.2px;top:289.64px;font-size:12.5px;color:#9ca2b6;font-weight:normal;transform:scaleX(0.835);transform-origin:0 0;-webkit-text-stroke:0.3px #9ca2b6;">1.31600</div><div class="t" style="left:1400.2px;top:345.2px;font-size:12.5px;color:#9ca2b6;font-weight:normal;transform:scaleX(0.835);transform-origin:0 0;-webkit-text-stroke:0.3px #9ca2b6;">1.31500</div><div class="t" style="left:1400.2px;top:400.76px;font-size:12.5px;color:#9ca2b6;font-weight:normal;transform:scaleX(0.835);transform-origin:0 0;-webkit-text-stroke:0.3px #9ca2b6;">1.31400</div><div class="t" style="left:1400.2px;top:456.32px;font-size:12.5px;color:#9ca2b6;font-weight:normal;transform:scaleX(0.835);transform-origin:0 0;-webkit-text-stroke:0.3px #9ca2b6;">1.31300</div><div class="t" style="left:1400.2px;top:511.88000000000005px;font-size:12.5px;color:#9ca2b6;font-weight:normal;transform:scaleX(0.835);transform-origin:0 0;-webkit-text-stroke:0.3px #9ca2b6;">1.31200</div><div class="t" style="left:11.6px;top:553.5px;font-size:12.5px;color:#9ca2b6;font-weight:normal;transform:scaleX(0.9);transform-origin:0 0;-webkit-text-stroke:0.3px #9ca2b6;">6 Nov 2020</div><div class="t" style="left:82.8px;top:553.5px;font-size:12.5px;color:#9ca2b6;font-weight:normal;transform:scaleX(0.9);transform-origin:0 0;-webkit-text-stroke:0.3px #9ca2b6;">20:35</div><div class="t" style="left:146.2px;top:553.5px;font-size:12.5px;color:#9ca2b6;font-weight:normal;transform:scaleX(0.9);transform-origin:0 0;-webkit-text-stroke:0.3px #9ca2b6;">21:25</div><div class="t" style="left:210.5px;top:553.5px;font-size:12.5px;color:#9ca2b6;font-weight:normal;transform:scaleX(0.9);transform-origin:0 0;-webkit-text-stroke:0.3px #9ca2b6;">8 Nov</div><div class="t" style="left:274.2px;top:553.5px;font-size:12.5px;color:#9ca2b6;font-weight:normal;transform:scaleX(0.9);transform-origin:0 0;-webkit-text-stroke:0.3px #9ca2b6;">9 Nov</div><div class="t" style="left:338.8px;top:553.5px;font-size:12.5px;color:#9ca2b6;font-weight:normal;transform:scaleX(0.9);transform-origin:0 0;-webkit-text-stroke:0.3px #9ca2b6;">01:05</div><div class="t" style="left:402.8px;top:553.5px;font-size:12.5px;color:#9ca2b6;font-weight:normal;transform:scaleX(0.9);transform-origin:0 0;-webkit-text-stroke:0.3px #9ca2b6;">01:55</div><div class="t" style="left:466.8px;top:553.5px;font-size:12.5px;color:#9ca2b6;font-weight:normal;transform:scaleX(0.9);transform-origin:0 0;-webkit-text-stroke:0.3px #9ca2b6;">02:45</div><div class="t" style="left:530.8px;top:553.5px;font-size:12.5px;color:#9ca2b6;font-weight:normal;transform:scaleX(0.9);transform-origin:0 0;-webkit-text-stroke:0.3px #9ca2b6;">03:35</div><div class="t" style="left:594.8px;top:553.5px;font-size:12.5px;color:#9ca2b6;font-weight:normal;transform:scaleX(0.9);transform-origin:0 0;-webkit-text-stroke:0.3px #9ca2b6;">04:25</div><div class="t" style="left:658.8px;top:553.5px;font-size:12.5px;color:#9ca2b6;font-weight:normal;transform:scaleX(0.9);transform-origin:0 0;-webkit-text-stroke:0.3px #9ca2b6;">05:15</div><div class="t" style="left:722.8px;top:553.5px;font-size:12.5px;color:#9ca2b6;font-weight:normal;transform:scaleX(0.9);transform-origin:0 0;-webkit-text-stroke:0.3px #9ca2b6;">06:05</div><div class="t" style="left:786.8px;top:553.5px;font-size:12.5px;color:#9ca2b6;font-weight:normal;transform:scaleX(0.9);transform-origin:0 0;-webkit-text-stroke:0.3px #9ca2b6;">06:55</div><div class="t" style="left:850.8px;top:553.5px;font-size:12.5px;color:#9ca2b6;font-weight:normal;transform:scaleX(0.9);transform-origin:0 0;-webkit-text-stroke:0.3px #9ca2b6;">07:45</div><div class="t" style="left:914.8px;top:553.5px;font-size:12.5px;color:#9ca2b6;font-weight:normal;transform:scaleX(0.9);transform-origin:0 0;-webkit-text-stroke:0.3px #9ca2b6;">08:35</div><div class="t" style="left:978.8px;top:553.5px;font-size:12.5px;color:#9ca2b6;font-weight:normal;transform:scaleX(0.9);transform-origin:0 0;-webkit-text-stroke:0.3px #9ca2b6;">09:25</div><div class="t" style="left:1042.8px;top:553.5px;font-size:12.5px;color:#9ca2b6;font-weight:normal;transform:scaleX(0.9);transform-origin:0 0;-webkit-text-stroke:0.3px #9ca2b6;">10:15</div><div class="t" style="left:1106.8px;top:553.5px;font-size:12.5px;color:#9ca2b6;font-weight:normal;transform:scaleX(0.9);transform-origin:0 0;-webkit-text-stroke:0.3px #9ca2b6;">11:05</div><div class="t" style="left:1170.8px;top:553.5px;font-size:12.5px;color:#9ca2b6;font-weight:normal;transform:scaleX(0.9);transform-origin:0 0;-webkit-text-stroke:0.3px #9ca2b6;">11:55</div><div class="t" style="left:1234.8px;top:553.5px;font-size:12.5px;color:#9ca2b6;font-weight:normal;transform:scaleX(0.9);transform-origin:0 0;-webkit-text-stroke:0.3px #9ca2b6;">12:45</div><div class="t" style="left:14.9px;top:175.20000000000002px;font-size:12.2px;color:#68728c;font-weight:normal;transform:scaleX(0.935);transform-origin:0 0;-webkit-text-stroke:0.3px #68728c;">#W16049286292</div><div class="t" style="left:119.3px;top:175.20000000000002px;font-size:12.2px;color:#50aa79;font-weight:normal;transform:scaleX(0.868);transform-origin:0 0;-webkit-text-stroke:0.3px #50aa79;">BUY 0.01</div><div class="t" style="left:14.9px;top:215.0px;font-size:12.2px;color:#68728c;font-weight:normal;transform:scaleX(0.935);transform-origin:0 0;-webkit-text-stroke:0.3px #68728c;">#W16046695437</div><div class="t" style="left:119.3px;top:215.0px;font-size:12.2px;color:#50aa79;font-weight:normal;transform:scaleX(0.868);transform-origin:0 0;-webkit-text-stroke:0.3px #50aa79;">BUY 0.10</div><div class="t" style="left:14.9px;top:374.1px;font-size:12.2px;color:#68728c;font-weight:normal;transform:scaleX(0.935);transform-origin:0 0;-webkit-text-stroke:0.3px #68728c;">#W16046695438</div><div class="t" style="left:119.3px;top:374.1px;font-size:12.2px;color:#50aa79;font-weight:normal;transform:scaleX(0.868);transform-origin:0 0;-webkit-text-stroke:0.3px #50aa79;">BUY 0.01</div><div class="t" style="left:1400.2px;top:146.8px;font-size:12.5px;color:#0c1017;font-weight:normal;transform:scaleX(0.81);transform-origin:0 0;-webkit-text-stroke:0.3px #0c1017;-webkit-text-stroke:0.1px #0c1017;">1.31859</div>
<!-- header -->
<div class="t" style="left:6.8px;top:10px;font-size:21.8px;color:#ffffff;-webkit-text-stroke:0.4px #fff;transform:scaleX(0.905);transform-origin:0 0;">GBPUSD</div>
<svg width="16" height="16" viewBox="0 0 24 24" style="left:101.2px;top:11.4px;"><path d="M12 1.5l3.1 6.9 7.4.7-5.6 5 1.7 7.4L12 17.7l-6.6 3.8 1.7-7.4-5.6-5 7.4-.7z" fill="#40c6ee"/></svg>
<div style="position:absolute;left:133px;top:12px;width:34px;height:15px;border-radius:2px;background:#56b685;"></div>
<div class="t" style="left:137.8px;top:14.8px;font-size:11px;font-weight:bold;color:#ffffff;transform:scaleX(0.88);transform-origin:0 0;">16.80</div>
<!-- toolbar -->
<div class="sel" style="left:737px;width:76px;"></div>
<div class="t" style="left:754px;top:16.6px;font-size:12px;font-weight:bold;color:#9ba1b8;transform:scaleX(0.95);transform-origin:0 0;">M5</div>
<svg width="12" height="8" style="left:789.5px;top:19.3px;"><path d="M0.2,0.5 L9.8,0.5 L5,5.8z" fill="#9ba1b8"/></svg>
<div class="sel" style="left:817px;width:60px;"></div>
<svg width="24" height="24" style="left:824px;top:10px;">
<g fill="none" stroke="#a0a4ae" stroke-width="1.2">
<rect x="2.4" y="12" width="3.6" height="8.4"/><rect x="8.4" y="4.7" width="3.6" height="10.6"/><rect x="15.6" y="10.9" width="3.6" height="7.6"/>
<path d="M4.2 10v2M4.2 20.4v2.4M10.2 2.6v2.1M10.2 15.3v3.8M17.4 9.3v1.6M17.4 18.5v1.6"/>
</g></svg>
<svg width="12" height="8" style="left:853px;top:19.5px;"><path d="M0.2,0.5 L9.8,0.5 L5,5.8z" fill="#9ba1b8"/></svg>
<div class="btn" style="left:881px;"></div>
<div class="btn" style="left:917px;"></div>
<div class="btn" style="left:953px;"></div>
<div class="btn" style="left:1004px;"></div>
<div class="btn" style="left:1040px;"></div>
<div class="btn" style="left:1076px;"></div>
<div class="btn" style="left:1112px;"></div>
<div class="btn" style="left:1148px;"></div>
<div class="btn" style="left:1184px;"></div>
<div class="btn" style="left:1220px;"></div>
<svg width="1448" height="50" viewBox="0 0 1448 50" style="left:0;top:0;">
<g fill="none" stroke="#ffffff" stroke-width="1.8" stroke-linecap="round">
<circle cx="895.2" cy="21" r="6.4"/><path d="M892.3 21h5.8M895.2 18.1v5.8M901.6 27.8l2.7 2.5"/>
<circle cx="931.9" cy="21" r="6.4"/><path d="M929.1 21h5.6M938.4 27.8l2.7 2.5"/>
<path d="M962 20.3V15.6q0-.6.6-.6h4.7M970.9 15h4.7q.6 0 .6.6v4.7M976.2 24v4.6q0 .6-.6.6h-4.7M967.3 29.2h-4.7q-.6 0-.6-.6V24" stroke-linecap="butt" stroke-width="1.75"/>
</g>
<circle cx="969" cy="22" r="2.75" fill="none" stroke="#fff" stroke-width="1.7"/>
<path d="M969 17.3v2M969 24.7v2M964.3 22h2M971.7 22h2" stroke="#fff" stroke-width="2"/>
<g stroke="#fff" stroke-linecap="round">
<path d="M1020 15.5v14" stroke-width="2.1" stroke-linecap="butt"/>
<path d="M1049 22h15.2" stroke-width="2.1" stroke-linecap="butt"/>
<path d="M1087.8 27l9.6-9.6" stroke-width="2.2"/>
<path d="M1157 26.3l10.5-10.5M1160.9 29.4l10.4-10.4" stroke-width="1.9"/>
</g>
<g fill="#fff">
<rect x="1119" y="13.7" width="18" height="1.4"/>
<rect x="1119" y="21.3" width="18" height="1.7" fill="#e4e4e4"/>
<rect x="1119" y="25.9" width="18" height="1.2"/>
<rect x="1119" y="28.1" width="18" height="2.9" fill="#d4d4d4"/>
<path d="M1230 16.6l7 5.2-7 5.3zM1236.3 16.6l8.5 5.2-8.5 5.3z"/>
</g>
</svg>
<svg width="1448" height="50" viewBox="0 0 1448 50" style="left:0;top:0;">
<g fill="none" stroke="#fff" stroke-linecap="round">
<path d="M1191.3 30.2C1192.6 30.6 1193.9 29.6 1194.6 26.6L1196.3 19.2C1197 16 1198 13.9 1200 13.3" stroke-width="1.25"/>
<path d="M1193.2 22h4.4" stroke-width="1.1"/>
<path d="M1201.2 17.9C1199.8 20 1199.8 24.6 1201.2 26.6M1207.3 17.9C1208.7 20 1208.7 24.6 1207.3 26.6" stroke-width="1.4"/>
<path d="M1202.6 20.9l2.2 3.2M1204.8 20.9l-2.2 3.2" stroke-width="1.2"/>
</g></svg>

<!-- platform time -->
<div class="t" style="left:1370.2px;top:6.5px;font-size:10.8px;color:#5e6475;-webkit-text-stroke:0.25px #5e6475;transform:scaleX(0.92);transform-origin:0 0;">PLATFORM TIME</div>
<div class="t" style="left:1283.2px;top:22.6px;font-size:12.8px;color:#a9afc4;transform:scaleX(0.95);transform-origin:0 0;">09 Nov 2020</div>
<div class="t" style="left:1357.6px;top:22.8px;font-size:12.8px;font-weight:bold;color:#ffffff;transform:scaleX(0.93);transform-origin:0 0;">13:34:21 UTC +0</div>
</body></html>
